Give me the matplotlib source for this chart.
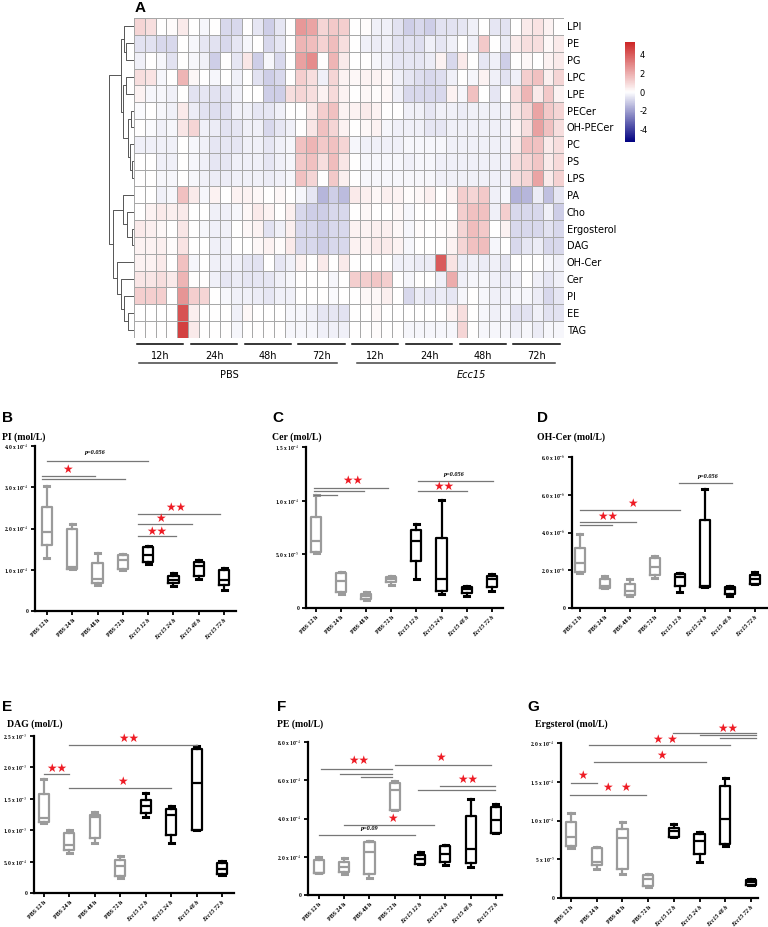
import matplotlib
matplotlib.use("Agg")
import matplotlib.pyplot as plt
import numpy as np
from matplotlib.colors import LinearSegmentedColormap

W, H = 768, 927

lipids = ["LPI", "PE", "PG", "LPC", "LPE", "PECer", "OH-PECer", "PC", "PS", "LPS",
          "PA", "Cho", "Ergosterol", "DAG", "OH-Cer", "Cer", "PI", "EE", "TAG"]
hours = ["12h", "24h", "48h", "72h"]
groups = ["PBS", "Ecc15"]
conditions = ["PBS 12 h", "PBS 24 h", "PBS 48 h", "PBS 72 h",
              "Ecc15 12 h", "Ecc15 24 h", "Ecc15 48 h", "Ecc15 72 h"]

# z-scores, 19 lipids x 40 samples (8 conditions x 5 replicates)
heat_values = np.array([
    [1.0, 0.8, 0, 0.1, 0.5, 0, -0.2, 0, -0.8, -0.8, 0, -0.5, -1.0, -0.5, 0, 2.5, 2.2, 1.0, 1.3, 1.2, 0, 0.1, -0.3, -0.3, -0.6, -1.0, -0.8, -1.0, -0.6, -0.6, -0.5, -0.3, 0, -0.5, -0.6, 0, 0.5, 0.7, 0.3, 0],
    [-0.6, -0.6, -0.8, -0.8, 0, -0.2, -0.5, -0.6, -0.8, -0.5, -0.2, 0, -0.8, -0.5, 0, 1.8, 1.6, 1.1, 1.6, 0.8, 0, -0.3, -0.4, -0.3, -0.6, -0.6, -0.7, -0.3, -0.5, -0.3, 0, -0.3, 1.3, 0, -0.4, 0.5, 0.8, 0.8, 0.2, 0.5],
    [-0.3, 0, -0.2, -0.6, 0, -0.2, -0.3, -1.0, 0, -0.5, 0.6, -1.0, -0.2, -0.8, 0, 2.3, 2.8, 0, 1.8, 0.5, 0, 0, -0.2, -0.3, -0.5, -0.5, -0.5, -0.4, 0.3, -0.8, 0.5, 0, -0.5, -0.3, -1.0, 0, 0.2, 0, 0.3, 0.5],
    [0.8, 0.7, -0.2, 0, 1.8, 0.2, 0, -0.2, 0, -0.3, 0, -0.6, -1.0, -0.8, 0, 1.2, 0.8, -0.3, 1.0, 0.3, 0.2, 0.3, 0.3, 0.2, -0.3, -0.5, -0.7, -0.8, -0.7, -0.3, 0, -0.2, 0.3, -0.3, -0.6, -0.3, 1.2, 1.5, 0.4, 1.0],
    [0.3, -0.2, -0.2, -0.3, 0, -0.6, -0.5, -0.6, -0.6, -0.3, 0, 0, -1.0, -1.0, 0.8, 1.0, 0.8, 0.3, 0.9, 0.3, 0, 0.2, 0.1, 0.2, -0.3, -0.8, -0.8, -0.8, -0.8, 0.3, -0.2, 1.5, 0, -0.5, 0, 0.8, 1.8, 0.5, 1.3, 0.3],
    [-0.1, 0, -0.2, -0.3, 0.5, -0.4, -0.6, -0.7, -0.7, -0.3, -0.3, -0.5, -0.5, -0.3, 0, 0, 0.5, 1.2, 1.5, 0.3, 0.3, 0.5, 0.3, 0, 0, -0.3, -0.3, -0.5, -0.3, -0.3, -0.4, -0.3, -0.3, -0.3, -0.3, 0.6, 1.0, 2.2, 1.3, 1.0],
    [0, -0.1, -0.3, -0.2, 0.6, 1.0, -0.3, -0.4, -0.6, -0.5, -0.3, -0.3, -0.8, -0.5, -0.3, 0, 0.6, 1.5, 1.0, 0.3, 0, 0.2, 0.3, -0.2, -0.3, -0.3, -0.3, -0.5, -0.5, -0.3, -0.3, -0.3, -0.3, -0.3, -0.3, 0.3, 0.8, 2.3, 1.5, 0.8],
    [-0.3, -0.3, -0.3, -0.3, 0, -0.2, -0.3, -0.5, -0.5, -0.5, -0.3, -0.3, -0.5, -0.3, -0.2, 1.5, 1.8, 1.3, 1.5, 1.0, -0.2, -0.3, -0.3, -0.3, -0.3, -0.2, -0.2, -0.2, -0.2, -0.3, -0.3, -0.3, -0.3, -0.3, -0.3, 0.5, 1.5, 1.5, 0.5, 0.8],
    [0, 0, -0.3, -0.3, 0, -0.2, -0.3, -0.5, -0.5, -0.3, -0.3, -0.3, -0.5, -0.3, -0.2, 1.3, 1.5, 0.8, 1.6, 0.6, 0, -0.2, -0.2, -0.2, -0.2, -0.3, -0.2, -0.2, -0.3, -0.3, -0.3, -0.3, -0.3, -0.3, -0.3, 0.8, 1.0, 1.4, 0.5, 0.9],
    [0, 0, -0.2, -0.2, 0, -0.2, -0.3, -0.4, -0.4, -0.3, -0.3, -0.3, -0.4, -0.3, -0.2, 1.5, 1.0, 0, 1.3, 0.4, 0, -0.2, -0.2, -0.2, -0.2, -0.2, -0.2, -0.2, -0.3, -0.3, -0.3, -0.3, -0.3, -0.3, -0.3, 0.8, 1.0, 2.2, 0.5, 1.1],
    [0, 0, -0.3, -0.2, 1.5, 0.5, -0.2, 0.3, 0, 0.3, 0.3, 0.2, 0, 0.2, 0, -0.2, -0.5, -1.5, -1.0, -1.4, 0.5, 0.4, 0.2, 0.4, 0.3, 0.1, 0.2, 0.4, 0, 0.3, 1.2, 1.0, 1.3, -0.3, -0.2, -1.6, -1.5, -0.4, -1.3, -0.5],
    [0, 0.3, 0.5, 0.4, 0.5, 0, 0, -0.3, -0.3, -0.2, 0.2, 0.5, 0.3, 0, 0.4, -0.8, -1.0, -1.0, -0.8, -0.8, 0, 0.2, 0, 0, 0.2, -0.2, 0, 0, 0.1, 0, 1.2, 1.5, 1.5, -0.3, 1.2, -0.8, -0.8, -0.8, -0.3, -1.0],
    [0.5, 0.4, 0.2, 0, 0.6, 0, -0.2, -0.3, -0.3, 0, 0.2, 0.3, -0.6, -0.3, 0.4, -0.8, -0.8, -1.0, -0.8, -0.8, 0.3, 0.3, 0.4, 0.4, 0.2, -0.2, 0.1, 0, 0.1, 0.2, 1.0, 1.6, 1.3, 0, 0.3, -0.8, -0.8, -0.8, -0.6, -0.8],
    [0.3, 0.3, 0.4, 0.1, 0.7, 0, 0, -0.3, -0.3, 0, 0, 0.2, 0.3, 0.1, 0.5, -0.8, -0.8, -1.0, -0.8, -0.8, 0.3, 0.3, 0.5, 0.5, 0.3, -0.2, 0, 0, 0, 0.3, 1.0, 1.5, 1.6, -0.2, 0, -0.8, -0.5, -0.4, -0.8, -0.8],
    [0.3, 0.3, 0.5, 0, 1.5, -0.2, 0, -0.3, -0.3, -0.3, -0.5, -0.6, 0, -0.5, -0.3, 0.3, 0, 0.5, 0, 0.5, 0, 0, 0, 0, -0.3, -0.3, -0.4, -0.4, 4.0, 0.7, -0.4, -0.3, -0.4, -0.3, -0.5, 0, 0, 0, -0.2, -0.3],
    [0.6, 0.6, 0.8, 0.5, 1.8, 0, 0, -0.3, -0.5, -0.4, -0.5, -0.5, -0.5, -0.3, -0.2, 0, 0, 0, -0.2, 0, 1.2, 1.2, 1.4, 1.2, 0, -0.2, 0, 0, -0.3, 2.0, -0.3, -0.2, -0.2, -0.3, -0.4, -0.3, 0, -0.3, -0.5, -0.3],
    [1.2, 1.2, 1.2, 0, 2.6, 1.2, 1.0, 0, -0.2, -0.3, -0.3, -0.4, -0.5, -0.3, -0.3, 0, 0, 0, -0.1, 0, 0, 0.2, 0.2, 0.4, 0, -0.8, -0.4, -0.5, -0.4, -0.5, -0.2, 0, -0.2, -0.3, -0.3, -0.2, -0.2, -0.4, -0.8, -0.5],
    [0, 0, 0, 0, 4.2, 0.4, 0, 0, 0, -0.3, 0.2, 0, 0, 0, -0.2, -0.2, -0.3, -0.5, -0.5, -0.6, 0, 0, 0.2, 0, 0, 0, 0, 0, 0, 0.3, 0.8, 0, -0.2, -0.3, -0.2, -0.6, -0.6, -0.3, -0.6, -0.6],
    [0, 0, 0, 0, 4.6, 0.5, 0, 0, 0, -0.2, 0, 0, 0, 0, -0.2, -0.2, -0.2, -0.3, -0.3, -0.3, 0, 0, 0.1, 0, 0, -0.2, -0.2, -0.2, -0.2, -0.2, 1.0, 0, -0.2, -0.2, -0.2, -0.3, -0.2, -0.4, -0.2, -0.2],
])

# row dendrogram: (child a, child b, height in px left of the heatmap); leaves 0..18, merges numbered from 19
row_links = [
    (1, 2, 8.0), (0, 19, 10.5), (3, 4, 8.0), (5, 6, 3.3), (8, 9, 1.7), (7, 23, 4.0),
    (22, 24, 5.7), (21, 25, 11.3), (20, 26, 13.3),
    (12, 13, 2.3), (11, 28, 7.3), (10, 29, 11.3), (17, 18, 5.7), (16, 31, 10.0),
    (15, 32, 13.3), (14, 33, 16.7), (30, 34, 20.7), (27, 35, 24.7),
]

# box stats per condition: (whisker low, q1, median, q3, whisker high)
pi_stats = [(1.28, 1.59, 1.91, 2.53, 3.04), (1.02, 1.02, 1.06, 1.99, 2.10), (0.62, 0.68, 0.78, 1.16, 1.40),
            (1.00, 1.02, 1.23, 1.35, 1.39), (1.13, 1.19, 1.36, 1.55, 1.57), (0.60, 0.68, 0.76, 0.86, 0.92),
            (0.77, 0.86, 1.10, 1.19, 1.23), (0.52, 0.62, 0.76, 1.00, 1.04)]
cer_stats = [(5.1, 5.19, 6.27, 8.5, 10.5), (1.33, 1.48, 2.53, 3.24, 3.4), (0.77, 0.83, 1.08, 1.33, 1.45),
             (2.1, 2.38, 2.72, 2.93, 3.0), (2.69, 4.38, 6.27, 7.3, 7.78), (1.33, 1.6, 2.69, 6.48, 10.1),
             (1.08, 1.39, 1.76, 2.0, 2.07), (1.6, 2.0, 2.69, 3.0, 3.15)]
ohcer_stats = [(1.84, 1.93, 2.37, 3.19, 3.91), (1.05, 1.05, 1.18, 1.54, 1.7), (0.65, 0.67, 0.91, 1.28, 1.54),
               (1.61, 1.75, 2.19, 2.63, 2.77), (0.84, 1.19, 1.63, 1.81, 1.84), (1.1, 1.1, 1.14, 4.68, 6.32),
               (0.65, 0.75, 1.0, 1.1, 1.14), (1.26, 1.26, 1.53, 1.75, 1.89)]
dag_stats = [(11.2, 11.3, 11.9, 15.7, 18.2), (6.4, 6.8, 7.7, 9.6, 10.0), (8.0, 8.8, 12.1, 12.5, 12.9),
             (2.4, 2.66, 4.26, 5.2, 5.9), (12.1, 12.7, 13.9, 14.8, 15.85), (8.0, 9.3, 12.4, 13.35, 13.9),
             (10.0, 10.0, 17.45, 22.9, 23.4), (2.9, 3.1, 3.78, 4.84, 5.05)]
pe_stats = [(1.13, 1.13, 1.17, 1.83, 2.0), (1.1, 1.22, 1.44, 1.74, 1.95), (0.87, 1.1, 2.26, 2.78, 2.83),
            (4.43, 4.43, 5.48, 5.88, 5.95), (1.6, 1.6, 1.86, 2.09, 2.26), (1.57, 1.7, 2.12, 2.57, 2.6),
            (1.48, 1.65, 2.43, 4.14, 5.04), (3.22, 3.22, 3.91, 4.61, 4.78)]
erg_stats = [(6.47, 6.77, 7.84, 9.83, 11.0), (3.79, 4.22, 4.66, 6.47, 6.55), (3.15, 3.79, 7.76, 8.84, 9.83),
             (1.38, 1.51, 2.5, 2.93, 3.1), (7.84, 7.84, 8.62, 9.05, 9.6), (4.66, 5.69, 7.33, 8.28, 8.49),
             (6.68, 7.03, 10.2, 14.4, 15.5), (1.64, 1.72, 2.07, 2.37, 2.46)]

# significance brackets: (from, to, level); stars: (x, level, label); p texts: (x, level, label)
pi_lines = [(0, 4, 3.63), (-0.2, 1.9, 3.28), (-0.2, 3.1, 3.2), (3.6, 6.85, 2.35), (3.6, 5.75, 2.11), (3.6, 5.1, 1.81)]
pi_stars = [(0.82, 3.42, "★"), (5.1, 2.5, "★★"), (4.5, 2.25, "★"), (4.35, 1.93, "★★")]
pi_p = [(1.9, 3.77, "p=0.056")]
cer_lines = [(-0.1, 2.87, 11.2), (-0.1, 1.9, 10.86), (-0.1, 0.83, 10.56), (4.05, 7.05, 11.8), (4.05, 6.0, 10.86)]
cer_stars = [(1.45, 11.9, "★★"), (5.1, 11.3, "★★")]
cer_p = [(5.5, 12.25, "p=0.056")]
ohcer_lines = [(0, 4.0, 5.18), (0, 2.27, 4.56), (0, 1.3, 4.39), (3.95, 6.1, 6.61)]
ohcer_stars = [(1.13, 4.86, "★★"), (2.1, 5.56, "★")]
ohcer_p = [(5.1, 6.84, "p=0.056")]
dag_lines = [(1, 6, 23.56), (0, 1, 19.0), (1, 5, 16.75)]
dag_stars = [(3.35, 24.6, "★★"), (0.5, 19.8, "★★"), (3.1, 17.8, "★")]
dag_p = []
pe_lines = [(0.1, 2.9, 6.57), (0.85, 2.9, 6.35), (1.65, 2.9, 6.16), (3.0, 6.8, 6.82), (4.8, 6.95, 5.69),
            (3.9, 6.95, 5.51), (1.0, 4.55, 3.65), (0, 3.8, 3.13)]
pe_stars = [(1.56, 7.04, "★★"), (4.8, 7.18, "★"), (5.9, 6.03, "★★"), (2.9, 4.0, "★")]
pe_p = [(2.0, 3.36, "p=0.09")]
erg_lines = [(0, 1.0, 14.87), (-0.05, 2.9, 13.28), (0.9, 5.25, 17.5), (0.7, 6.2, 19.7),
             (3.95, 7.2, 21.25), (5.0, 7.2, 21.0), (5.8, 7.2, 20.7)]
erg_stars = [(0.45, 15.8, "★"), (1.8, 14.2, "★  ★"), (3.5, 18.4, "★"), (3.65, 20.5, "★ ★"), (6.1, 21.9, "★★")]
erg_p = []

SERIF = "Liberation Serif"
plt.rcParams["mathtext.fontset"] = "stix"


def px_rect(left, top, right, bottom):
    return [left / W, 1 - bottom / H, (right - left) / W, (bottom - top) / H]


def fig_text(fig, x, y, s, **kw):
    fig.text(x / W, 1 - y / H, s, **kw)


def draw_heatmap(fig):
    cmap = LinearSegmentedColormap.from_list("nwf", ["#000080", "#ffffff", "#cd2626"])
    ax = fig.add_axes(px_rect(134, 18, 564, 338))
    mesh = ax.pcolormesh(heat_values, cmap=cmap, vmin=-5.3, vmax=5.3,
                         edgecolors="#a8a8a8", linewidth=0.4)
    ax.set_xlim(0, heat_values.shape[1])
    ax.set_ylim(len(lipids), 0)
    ax.set_xticks([])
    ax.set_yticks(np.arange(len(lipids)) + 0.5)
    ax.set_yticklabels(lipids, fontsize=7, family="DejaVu Sans")
    ax.yaxis.tick_right()
    ax.tick_params(axis="y", length=0, pad=2)
    for s in ax.spines.values():
        s.set_visible(False)

    n = len(lipids)
    # condition bars and labels under the heatmap
    for g in range(len(groups)):
        for k, hr in enumerate(hours):
            c0 = 5 * (4 * g + k)
            ax.plot([c0 + 0.3, c0 + 4.6], [n + 0.36, n + 0.36], color="black", lw=1.1, clip_on=False)
            ax.text(c0 + 2.45, n + 1.05, hr, ha="center", va="center", fontsize=7, family="DejaVu Sans")
    ax.plot([0.47, 18.9], [n + 1.5, n + 1.5], color="#444444", lw=1.1, clip_on=False)
    ax.plot([20.7, 39.2], [n + 1.5, n + 1.5], color="#444444", lw=1.1, clip_on=False)
    ax.text(8.9, n + 2.2, groups[0], ha="center", va="center", fontsize=7, family="DejaVu Sans")
    ax.text(31.4, n + 2.2, groups[1], ha="center", va="center", fontsize=7, family="DejaVu Sans",
            style="italic")

    # dendrogram
    dax = fig.add_axes(px_rect(106, 18, 134, 338))
    pos = {i: (0.0, i + 0.5) for i in range(n)}
    for k, (a, b, h) in enumerate(row_links):
        xa, ya = pos[a]
        xb, yb = pos[b]
        dax.plot([xa, h, h, xb], [ya, ya, yb, yb], color="#555555", lw=0.7)
        pos[n + k] = (h, (ya + yb) / 2)
    dax.set_xlim(28, 0)
    dax.set_ylim(n, 0)
    dax.axis("off")

    cax = fig.add_axes(px_rect(625, 42, 635, 142))
    cb = fig.colorbar(mesh, cax=cax, ticks=[4, 2, 0, -2, -4])
    cb.outline.set_visible(False)
    cb.ax.tick_params(length=0, labelsize=6, pad=3)
    cb.ax.set_yticklabels(["4", "2", "0", "-2", "-4"], family="DejaVu Sans")


def draw_box_panel(fig, rect, xlim, stats, ylim, yticks, yticklabels, lines, stars, ptexts):
    ax = fig.add_axes(px_rect(*rect))
    bstats = []
    for (lo, q1, med, q3, hi) in stats:
        bstats.append(dict(whislo=lo, q1=q1, med=med, q3=q3, whishi=hi, fliers=[]))
    x = np.arange(len(conditions))
    colors = ["#9b9b9b"] * 4 + ["black"] * 4
    for i, st in enumerate(bstats):
        c = colors[i]
        ax.bxp([st], positions=[x[i]], widths=0.4, capwidths=0.2, showfliers=False,
               boxprops=dict(color=c, lw=1.6), medianprops=dict(color=c, lw=1.6),
               whiskerprops=dict(color=c, lw=1.6), capprops=dict(color=c, lw=2.2),
               manage_ticks=False)
    for (a, b, lvl) in lines:
        ax.plot([a, b], [lvl, lvl], color="#777777", lw=0.9, clip_on=False)
    for (sx, lvl, lab) in stars:
        ax.text(sx, lvl, lab, color="#ee1c25", fontsize=8.5, ha="center", va="center",
                family="DejaVu Sans")
    for (sx, lvl, lab) in ptexts:
        ax.text(sx, lvl, lab, fontsize=4.5, ha="center", va="bottom", family=SERIF,
                style="italic", weight="bold")
    ax.set_xlim(*xlim)
    ax.set_ylim(*ylim)
    ax.set_xticks(x)
    ax.set_xticklabels(conditions, rotation=45, ha="right", rotation_mode="anchor",
                       fontsize=4.3, family=SERIF, weight="bold")
    for i, t in enumerate(ax.get_xticklabels()):
        if i >= 4:
            t.set_style("italic")
    ax.set_yticks(yticks)
    ax.set_yticklabels(yticklabels, fontsize=4, family=SERIF, weight="bold")
    for s in ["top", "right"]:
        ax.spines[s].set_visible(False)
    for s in ["left", "bottom"]:
        ax.spines[s].set_linewidth(1.6)
    ax.tick_params(width=1.3, length=3, pad=1.5)
    return ax


def main():
    fig = plt.figure(figsize=(W / 100, H / 100), dpi=100)
    draw_heatmap(fig)
    fig_text(fig, 135, 8, "A", fontsize=11, weight="bold", family="Liberation Sans", va="center")

    def sci(m, e):
        return f"{m} x 10$^{{{e}}}$"

    draw_box_panel(fig, (35, 446, 236, 611), (-0.47, 7.47), pi_stats, (0, 4),
                   [0, 1, 2, 3, 4], ["0", sci("1.0", -4), sci("2.0", -4), sci("3.0", -4), sci("4.0", -4)],
                   pi_lines, pi_stars, pi_p)
    draw_box_panel(fig, (306, 447, 503, 608), (-0.4, 7.45), cer_stats, (0, 15),
                   [0, 5, 10, 15], ["0", sci("5.0", -5), sci("1.0", -4), sci("1.5", -4)],
                   cer_lines, cer_stars, cer_p)
    draw_box_panel(fig, (572, 457, 768, 608), (-0.3, 7.52), ohcer_stats, (0, 8),
                   [0, 2, 4, 6, 8], ["0", sci("2.0", -6), sci("4.0", -6), sci("6.0", -6), sci("6.0", -6)],
                   ohcer_lines, ohcer_stars, ohcer_p)
    draw_box_panel(fig, (34, 736, 234, 893), (-0.39, 7.47), dag_stats, (0, 25),
                   [0, 5, 10, 15, 20, 25], ["0", sci("5.0", -4), sci("1.0", -3), sci("1.5", -3),
                                            sci("2.0", -3), sci("2.5", -3)],
                   dag_lines, dag_stars, dag_p)
    draw_box_panel(fig, (308, 742, 502, 895), (-0.43, 7.24), pe_stats, (0, 8),
                   [0, 2, 4, 6, 8], ["0", sci("2.0", -4), sci("4.0", -4), sci("6.0", -4), sci("8.0", -4)],
                   pe_lines, pe_stars, pe_p)
    draw_box_panel(fig, (561, 743, 758, 898), (-0.39, 7.27), erg_stats, (0, 20),
                   [0, 5, 10, 15, 20], ["0", sci("5", -5), sci("1.0", -4), sci("1.5", -4), sci("2.0", -4)],
                   erg_lines, erg_stars, erg_p)

    letters = [("B", 2, 418), ("C", 272, 418), ("D", 537, 418),
               ("E", 2, 707), ("F", 277, 707), ("G", 527, 707)]
    for lab, lx, ly in letters:
        fig_text(fig, lx, ly, lab, fontsize=11, weight="bold", family="Liberation Sans", va="center")
    titles = [("PI (mol/L)", 2, 437), ("Cer (mol/L)", 272, 437), ("OH-Cer (mol/L)", 537, 437),
              ("DAG (mol/L)", 7, 724), ("PE (mol/L)", 277, 724), ("Ergsterol (mol/L)", 535, 724)]
    for lab, lx, ly in titles:
        fig_text(fig, lx, ly, lab, fontsize=7, weight="bold", family=SERIF, va="center")

    fig.savefig("out.png", dpi=100)


if __name__ == "__main__":
    main()
